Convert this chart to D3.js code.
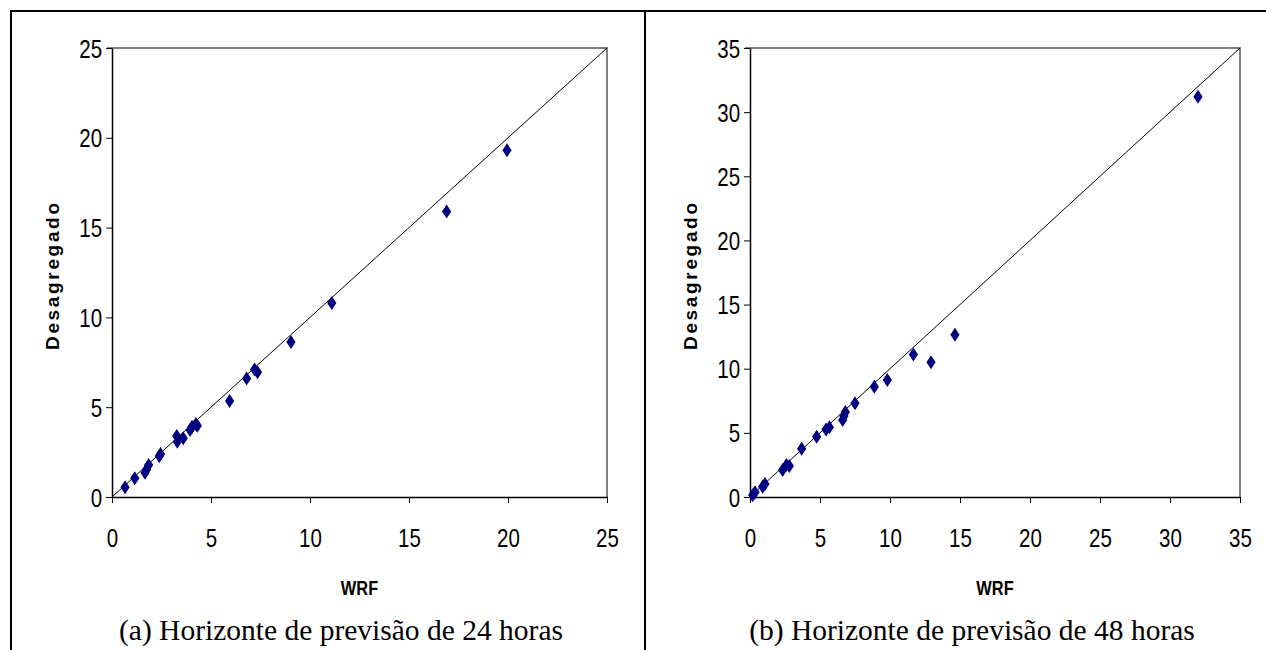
<!DOCTYPE html>
<html>
<head>
<meta charset="utf-8">
<script src="https://cdn.jsdelivr.net/npm/d3@7"></script>
<style>
  html, body { margin: 0; padding: 0; background: #fff; }
  svg { display: block; }
</style>
</head>
<body>
<svg id="fig" width="1266" height="650"></svg>
<script>
// Previsão de 24 horas: WRF x desagregado
const wrf24 = [0.66, 1.15, 1.67, 1.75, 1.85, 2.39, 2.45, 3.27, 3.30, 3.60, 3.94, 4.04, 4.24, 4.31, 5.94, 6.80, 7.20, 7.35, 9.04, 11.1, 16.9, 19.95];
const desag24 = [0.54, 1.04, 1.35, 1.54, 1.78, 2.28, 2.40, 3.40, 3.08, 3.27, 3.73, 3.91, 4.06, 3.97, 5.35, 6.60, 7.10, 6.95, 8.63, 10.8, 15.9, 19.3];

// Previsão de 48 horas: WRF x desagregado
const wrf48 = [0.19, 0.36, 0.90, 1.07, 2.33, 2.60, 2.81, 3.69, 4.76, 5.43, 5.67, 6.62, 6.71, 6.81, 7.50, 8.88, 9.81, 11.67, 12.93, 14.64, 32.0];
const desag48 = [0.13, 0.37, 0.80, 1.01, 2.10, 2.50, 2.42, 3.77, 4.70, 5.27, 5.43, 6.00, 6.31, 6.62, 7.30, 8.60, 9.12, 11.10, 10.50, 12.65, 31.2];

const ticks24 = [0, 5, 10, 15, 20, 25];
const ticks48 = [0, 5, 10, 15, 20, 25, 30, 35];

const xTitle = "WRF";
const yTitle = "Desagregado";
const caption24 = "(a) Horizonte de previsão de 24 horas";
const caption48 = "(b) Horizonte de previsão de 48 horas";

const svg = d3.select("#fig");

// moldura da figura
const frame = svg.append("g").attr("stroke", "#000").attr("stroke-width", 2).attr("fill", "none");
frame.append("line").attr("x1", 10).attr("x2", 1266).attr("y1", 11).attr("y2", 11);
frame.append("line").attr("x1", 11).attr("x2", 11).attr("y1", 10).attr("y2", 650);
frame.append("line").attr("x1", 645).attr("x2", 645).attr("y1", 10).attr("y2", 650);

const sansFont = "'Liberation Sans', Arial, sans-serif";
const serifFont = "'Liberation Serif', 'Times New Roman', serif";
const narrow = 0.82;

function scatterPanel(cfg) {
  const x = d3.scaleLinear().domain([0, cfg.max]).range([cfg.left, cfg.right]);
  const y = d3.scaleLinear().domain([0, cfg.max]).range([cfg.bottom, cfg.top]);
  const g = svg.append("g");

  // borda superior e direita da área de plotagem
  g.append("path")
    .attr("d", `M${cfg.left - 5},${cfg.top}H${cfg.right}V${cfg.bottom}`)
    .attr("fill", "none").attr("stroke", "#808080").attr("stroke-width", 2);

  // eixos
  const ax = g.append("g").attr("transform", `translate(0,${cfg.bottom})`)
    .call(d3.axisBottom(x).tickValues(cfg.ticks).tickSize(6).tickSizeOuter(0));
  const ay = g.append("g").attr("transform", `translate(${cfg.left},0)`)
    .call(d3.axisLeft(y).tickValues(cfg.ticks).tickSize(6).tickSizeOuter(0).tickPadding(6));

  [ax, ay].forEach(a => {
    a.select(".domain").attr("stroke", "#000").attr("stroke-width", 1.5);
    a.selectAll(".tick line").attr("stroke", "#000").attr("stroke-width", 1);
    a.selectAll(".tick text")
      .attr("fill", "#000")
      .style("font-family", sansFont)
      .style("font-size", "25px")
      .attr("transform", `scale(${narrow},1)`);
  });
  ax.selectAll(".tick text").attr("dy", null).attr("y", 50);
  ay.selectAll(".tick text").attr("dy", "0.36em");

  // linha 1:1
  g.append("line")
    .attr("x1", x(0)).attr("y1", y(0))
    .attr("x2", x(cfg.max)).attr("y2", y(cfg.max))
    .attr("stroke", "#000").attr("stroke-width", 1);

  // pontos (losangos)
  const pts = cfg.xs.map((v, i) => [v, cfg.ys[i]]);
  g.append("g").selectAll("path")
    .data(pts)
    .join("path")
    .attr("d", d => {
      const cx = x(d[0]), cy = y(d[1]);
      return `M${cx},${cy - 7}L${cx + 4.6},${cy}L${cx},${cy + 7}L${cx - 4.6},${cy}Z`;
    })
    .attr("fill", "#000080");

  // títulos dos eixos
  g.append("text")
    .attr("transform", `translate(${(cfg.left + cfg.right) / 2},595) scale(0.78,1)`)
    .attr("text-anchor", "middle")
    .style("font-family", sansFont).style("font-weight", "bold").style("font-size", "21px")
    .text(xTitle);

  g.append("text")
    .attr("transform", `translate(${cfg.left - 53},${(cfg.top + cfg.bottom) / 2 + 4}) rotate(-90)`)
    .attr("text-anchor", "middle")
    .attr("textLength", 147).attr("lengthAdjust", "spacing")
    .style("font-family", sansFont).style("font-weight", "bold").style("font-size", "19px")
    .text(yTitle);

  // legenda do painel
  g.append("text")
    .attr("x", cfg.captionX).attr("y", 640)
    .attr("text-anchor", "middle")
    .style("font-family", serifFont).style("font-size", "29.5px")
    .text(cfg.caption);
}

scatterPanel({ xs: wrf24, ys: desag24, max: 25, ticks: ticks24,
  left: 112, right: 607, top: 48, bottom: 497, captionX: 341, caption: caption24 });
scatterPanel({ xs: wrf48, ys: desag48, max: 35, ticks: ticks48,
  left: 750, right: 1240, top: 48, bottom: 497, captionX: 972, caption: caption48 });
</script>
</body>
</html>
